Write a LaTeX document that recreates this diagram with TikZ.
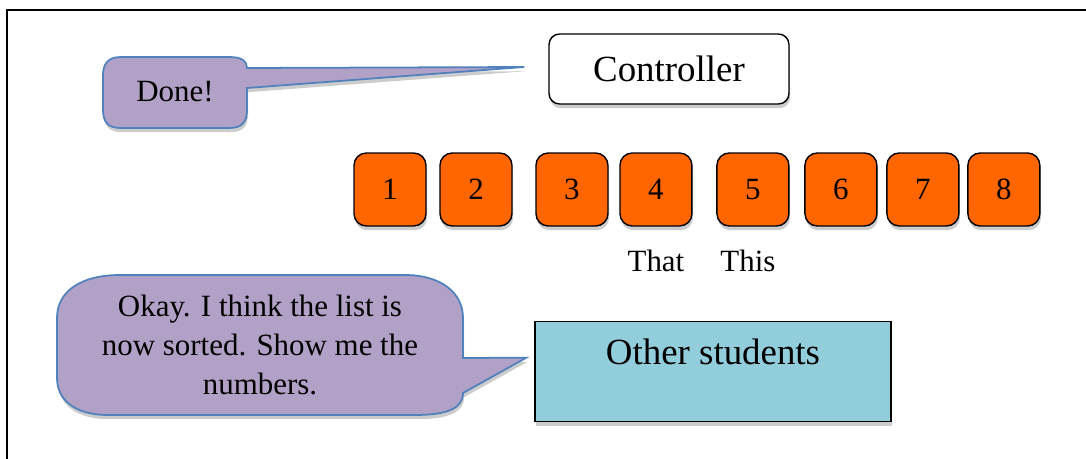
\documentclass[tikz,border=0pt]{standalone}
\usepackage{fontspec}
\setmainfont{Liberation Serif}
\usepackage{tikz}
\usetikzlibrary{positioning, shadows}
\definecolor{talkfill}{HTML}{B2A1C7}
\definecolor{talkline}{HTML}{4F81BD}
\definecolor{numfill}{HTML}{FF6600}
\definecolor{studfill}{HTML}{92CDDC}

\begin{document}
\begin{tikzpicture}[
    x=0.02cm, y=-0.02cm,
    node distance=0.35cm,
    shadowed/.style={drop shadow={shadow xshift=0.6pt, shadow yshift=-2.4pt, fill=black!20, opacity=1}},
    numbox/.style={rectangle, draw, thick, fill=numfill, rounded corners=7pt, minimum width=1.44cm, minimum height=1.46cm, outer sep=0pt, font=\fontsize{17.6}{21}\selectfont, shadowed},
    ctrlbox/.style={rectangle, draw, thick, fill=white, rounded corners=6pt, minimum width=4.8cm, minimum height=1.4cm, font=\fontsize{21}{25}\selectfont, shadowed},
    studbox/.style={rectangle, draw, thick, fill=studfill, minimum width=7.12cm, inner ysep=0.3cm, text height=0.56cm, text depth=0.84cm, font=\fontsize{21}{25}\selectfont, shadowed},
    talk/.style={draw=talkline, line width=1pt, fill=talkfill, shadowed},
    word/.style={font=\fontsize{17.6}{22.2}\selectfont, align=center}
]
    \useasboundingbox (0,0) rectangle (1086,459);

    % frame
    \draw [line width=1.1pt] (7,459) -- (7,10) -- (1086,10);

    \node [ctrlbox] (ctrl) at (669,69) {Controller};
    \node [studbox, anchor=north] (students) at (713,321) {Other students};

    % the list
    \node [numbox] (n1) at (390,189.5) {1};
    \node [numbox, right=0.28cm of n1] (n2) {2};
    \node [numbox, right=0.48cm of n2] (n3) {3};
    \node [numbox, right=0.24cm of n3] (n4) {4};
    \node [numbox, right=0.5cm of n4] (n5) {5};
    \node [numbox, right=0.32cm of n5] (n6) {6};
    \node [numbox, right=0.2cm of n6] (n7) {7};
    \node [numbox, right=0.18cm of n7] (n8) {8};

    \node [word, below=of n4] (that) {That};
    \node [word, below=of n5, xshift=-0.1cm] (this) {This};

    % callouts
    \coordinate (donetip) at ([xshift=-0.48cm, yshift=0.04cm]ctrl.west);
    \coordinate (okaytip) at ([xshift=-0.16cm, yshift=0.28cm]students.west);

    \draw [talk] (103,75) .. controls (103,64) and (108,57) .. (121,57) -- (229,57) .. controls (242,57) and (247,61) .. (247,68) -- (donetip) -- (247,88) -- (247,110) .. controls (247,122) and (242,128) .. (229,128) -- (121,128) .. controls (108,128) and (103,122) .. (103,110) -- cycle;
    \node [word] (done) at (175,92) {Done!};

    \draw [talk] (57,318) .. controls (57,292) and (80,275) .. (120,275) -- (405,275) .. controls (440,275) and (463,292) .. (463,318) -- (463,358) -- (okaytip) -- (463,393) .. controls (463,408) and (448,415) .. (415,415) -- (108,415) .. controls (75,415) and (57,400) .. (57,378) -- cycle;
    \node [word] (okay) at (260,345) {Okay. I think the list is\\now sorted. Show me the\\numbers.};

\end{tikzpicture}
\end{document}
